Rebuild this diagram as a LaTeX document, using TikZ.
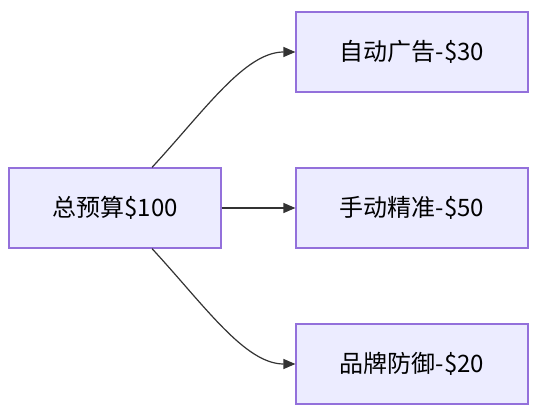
\documentclass[tikz,border=0pt]{standalone}
\usepackage{fontspec}
\setmainfont{Noto Sans CJK SC}
\usetikzlibrary{arrows.meta}
\definecolor{boxfill}{HTML}{ECECFF}
\definecolor{boxline}{HTML}{9370DB}
\definecolor{linkline}{HTML}{333333}
\tikzset{
  budget/.style={draw=boxline, fill=boxfill, line width=1.2pt, minimum height=80pt,
    inner sep=0pt, font=\fontsize{24}{28}\selectfont},
  link/.style={draw=linkline, line width=1.2pt, -{Triangle[length=12pt,width=10pt]}}
}
\begin{document}
\begin{tikzpicture}[x=1pt,y=-1pt]
      \useasboundingbox (0,0) rectangle (538,414);
      \node[budget, minimum width=212pt] (total) at (115,208) {总预算\$100};
      \foreach \y/\name/\txt in {52/auto/自动广告-\$30, 208/manual/手动精准-\$50, 364/brand/品牌防御-\$20} {
        \node[budget, minimum width=232pt] (\name) at (412,\y) {\txt};
      }
      \draw[link] ([xshift=37pt]total.north) .. controls (205,110) and (245,52) .. (auto.west);
      \draw[link] (total.east) -- (manual.west);
      \draw[link] ([xshift=37pt]total.south) .. controls (205,306) and (245,364) .. (brand.west);
    \end{tikzpicture}
\end{document}
